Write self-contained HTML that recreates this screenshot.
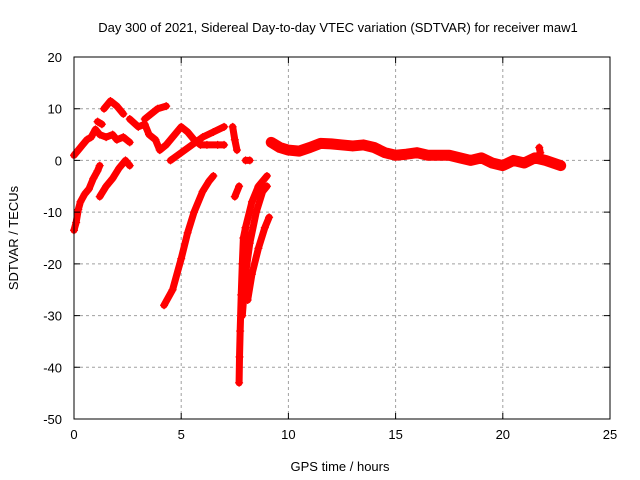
<!DOCTYPE html>
<html><head><meta charset="utf-8"><style>
body{margin:0;background:#fff}
svg{display:block;font-family:"Liberation Sans",sans-serif;font-size:13px}
</style></head><body>
<svg id="c" width="640" height="480">
<text x="338" y="32" text-anchor="middle">Day 300 of 2021, Sidereal Day-to-day VTEC variation (SDTVAR) for receiver maw1</text>
<text x="340" y="471" text-anchor="middle">GPS time / hours</text>
<text transform="translate(18,238) rotate(-90)" text-anchor="middle">SDTVAR / TECUs</text>
<g id="grid"></g><g id="data"></g>
<rect x="74" y="57" width="536" height="362" fill="none" stroke="#000"/>
<g id="ticks"></g>
</svg>
<script>
const xTicks=[0,5,10,15,20,25];
const yTicks=[20,10,0,-10,-20,-30,-40,-50];
const tracks=[
 [[0,-13.5],[0.1,-12],[0.2,-9.5],[0.3,-8],[0.5,-6.5],[0.7,-5.5],[0.9,-3.5],[1.1,-2],[1.2,-1]],
 [[1.2,-7],[1.5,-5],[1.8,-3.5],[2.1,-1.5],[2.4,0],[2.6,-1]],
 [[0,1],[0.2,2],[0.4,3],[0.6,4],[0.8,4.5],[1.0,6],[1.2,5],[1.5,4.5],[1.8,5],[2.0,4],[2.3,4.5],[2.6,3.5]],
 [[1.4,10],[1.7,11.5],[2.0,10.5],[2.3,9]],
 [[1.1,7.5],[1.3,7]],
 [[2.6,8],[3.0,6.5],[3.3,7],[3.5,5],[3.8,4],[4.0,2],[4.3,3],[4.6,4.5],[5.0,6.5],[5.3,5.5],[5.6,4],[5.9,3],[6.2,3],[6.7,3],[7.0,3]],
 [[3.3,8],[3.6,9],[3.9,10],[4.3,10.5]],
 [[4.5,0],[5.0,1.5],[5.5,3],[6.0,4.5],[6.5,5.5],[7.0,6.5]],
 [[7.4,6.5],[7.5,4],[7.6,2]],
 [[4.2,-28],[4.6,-25],[5.0,-19],[5.3,-14],[5.6,-10],[6.0,-6],[6.3,-4],[6.5,-3]],
 [[7.7,-43],[7.72,-38],[7.75,-33],[7.8,-26],[7.85,-20],[7.9,-15],[8.0,-13]],
 [[7.85,-30],[8.0,-22],[8.2,-16],[8.5,-10],[8.8,-6],[9.0,-5]],
 [[7.9,-21],[8.0,-13],[8.3,-8],[8.6,-5],[9.0,-3]],
 [[8.1,-27],[8.3,-22],[8.6,-17],[8.9,-13],[9.1,-11]],
 [[7.5,-7],[7.7,-5]],
 [[8.0,0],[8.2,0]],
 [[9.2,3.5],[9.6,2.5],[10,2],[10.5,1.8],[11,2.5],[11.5,3.3],[12,3.2],[12.5,3],[13,2.8],[13.5,3],[14,2.5],[14.5,1.5],[15,1],[15.5,1.2],[16,1.5],[16.5,1],[17,1],[17.5,1],[18,0.5],[18.5,0],[19,0.5],[19.5,-0.5],[20,-1],[20.5,0],[21,-0.5],[21.5,0.5],[22,0],[22.7,-1]],
 [[21.7,2.5],[21.75,1.5]]
];
const NS="http://www.w3.org/2000/svg";
const X=v=>74+v*536/25, Y=v=>57+(20-v)*362/70;
const g=document.getElementById('grid'),tk=document.getElementById('ticks'),d=document.getElementById('data');
function mk(tag,a,p){const e=document.createElementNS(NS,tag);for(const k in a)e.setAttribute(k,a[k]);p.appendChild(e);return e;}
xTicks.forEach(t=>{
 if(t>0&&t<25){const l=mk('line',{x1:X(t),x2:X(t),y1:57,y2:419,stroke:'#a0a0a0','stroke-dasharray':'3,3'},g);
 
 }
 const m=mk('path',{d:`M${X(t)},419v-6M${X(t)},57v6`,stroke:'#000'},tk);
 
 
 const s=mk('text',{x:X(t),y:439,'text-anchor':'middle'},tk);s.textContent=t;
 
 
});
yTicks.forEach(t=>{
 if(t<20&&t>-50){const l=mk('line',{x1:74,x2:610,y1:Y(t),y2:Y(t),stroke:'#a0a0a0','stroke-dasharray':'3,3'},g);
 
 }
 const m=mk('path',{d:`M74,${Y(t)}h6M610,${Y(t)}h-6`,stroke:'#000'},tk);
 
 
 const s=mk('text',{x:62,y:Y(t)+5,'text-anchor':'end'},tk);s.textContent=t;
 
 
});
tracks.forEach((tr,i)=>{
 const p=mk('polyline',{points:tr.map(q=>X(q[0])+','+Y(q[1])).join(' '),fill:'none',stroke:'#f00','stroke-width':i==16?11:7,'stroke-linejoin':'round','stroke-linecap':'round'},d);
 
 
 tr.forEach(q=>{const x=X(q[0]),y=Y(q[1]);
  const m=mk('path',{d:`M${x-4},${y}h8M${x},${y-4}v8`,stroke:'#f00','stroke-width':1.2},d);
  
  
 });
});
</script>
</body></html>
